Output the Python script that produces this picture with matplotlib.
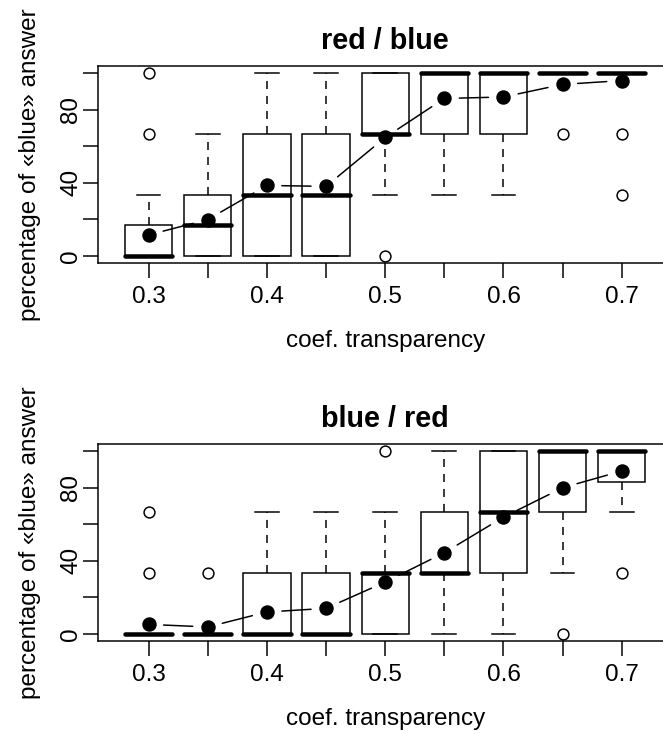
import numpy as np
import matplotlib.pyplot as plt

plt.rcParams['font.family'] = ['Liberation Sans', 'DejaVu Sans']
plt.rcParams['lines.scale_dashes'] = False

coef = [0.3, 0.35, 0.4, 0.45, 0.5, 0.55, 0.6, 0.65, 0.7]

# red / blue
rb_q1 = [0, 0, 0, 0, 66.7, 66.7, 66.7, 100, 100]
rb_med = [0, 16.7, 33.3, 33.3, 66.7, 100, 100, 100, 100]
rb_q3 = [16.7, 33.3, 66.7, 66.7, 100, 100, 100, 100, 100]
rb_lo = [0, 0, 0, 0, 33.3, 33.3, 33.3, 100, 100]
rb_hi = [33.3, 66.7, 100, 100, 100, 100, 100, 100, 100]
rb_out = [[66.7, 100], [], [], [], [0], [], [], [66.7], [66.7, 33.3]]
rb_mean = [11.4, 19.8, 38.5, 38.0, 64.8, 86.2, 87.0, 93.9, 96.0]

# blue / red
br_q1 = [0, 0, 0, 0, 0, 33.3, 33.3, 66.7, 83.3]
br_med = [0, 0, 0, 0, 33.3, 33.3, 66.7, 100, 100]
br_q3 = [0, 0, 33.3, 33.3, 33.3, 66.7, 100, 100, 100]
br_lo = [0, 0, 0, 0, 0, 0, 0, 33.3, 66.7]
br_hi = [0, 0, 66.7, 66.7, 66.7, 100, 100, 100, 100]
br_out = [[33.3, 66.7], [33.3], [], [], [100], [], [], [0], [33.3]]
br_mean = [5.1, 3.7, 11.9, 13.9, 28.3, 44.4, 63.9, 80.0, 89.2]

LW = 1.08


def drawPanel(ax, title, q1, med, q3, lo, hi, out, mean):
    stats = []
    for i in range(len(coef)):
        stats.append(dict(q1=q1[i], med=med[i], q3=q3[i], whislo=lo[i], whishi=hi[i],
                          fliers=np.array(out[i], dtype=float)))
    pos = np.arange(1, len(coef) + 1)
    ax.bxp(stats, positions=pos, widths=0.8, capwidths=0.4, patch_artist=True,
           manage_ticks=False,
           boxprops=dict(facecolor='white', edgecolor='black', linewidth=LW),
           medianprops=dict(color='black', linewidth=3.24, solid_capstyle='round'),
           whiskerprops=dict(color='black', linewidth=LW, linestyle=(0, (5.8, 5.0))),
           capprops=dict(color='black', linewidth=LW),
           flierprops=dict(marker='o', markerfacecolor='none', markeredgecolor='black',
                           markersize=7.8, markeredgewidth=LW))

    # type="b": points joined by segments with gaps
    for i in range(len(pos) - 1):
        ax.annotate('', xy=(pos[i + 1], mean[i + 1]), xytext=(pos[i], mean[i]),
                    arrowprops=dict(arrowstyle='-', color='black', lw=LW,
                                    shrinkA=10.8, shrinkB=10.8))
    ax.plot(pos, mean, 'o', color='black', markersize=9.4, zorder=5)

    ax.set_xlim(0.14, 9.86)
    ax.set_ylim(-4, 104)
    ax.set_xticks(pos)
    ax.set_xticklabels(['{:g}'.format(c) if i % 2 == 0 else '' for i, c in enumerate(coef)])
    ax.set_yticks([0, 20, 40, 60, 80, 100])
    ax.set_yticklabels(['0', '', '40', '', '80', ''])
    ax.tick_params(axis='both', length=10.8, width=LW, labelsize=17.5)
    ax.tick_params(axis='x', pad=5.7)
    ax.tick_params(axis='y', pad=0.5)
    plt.setp(ax.get_yticklabels(), rotation=90, va='center')
    for s in ax.spines.values():
        s.set_linewidth(LW)

    ax.set_title(title, fontsize=20.7, fontweight='bold', pad=12.2)
    ax.set_xlabel('coef. transparency', fontsize=17.5, labelpad=16.2)
    ax.set_ylabel('percentage of «blue» answer', fontsize=17.5, labelpad=14)


fig = plt.figure(figsize=(6.63, 7.34), dpi=100)
ax1 = fig.add_axes([0.1474, 0.6417, 0.8671, 0.2684])
ax2 = fig.add_axes([0.1474, 0.1267, 0.8671, 0.2684])

drawPanel(ax1, 'red / blue', rb_q1, rb_med, rb_q3, rb_lo, rb_hi, rb_out, rb_mean)
drawPanel(ax2, 'blue / red', br_q1, br_med, br_q3, br_lo, br_hi, br_out, br_mean)

plt.savefig('out.png')
plt.close()
